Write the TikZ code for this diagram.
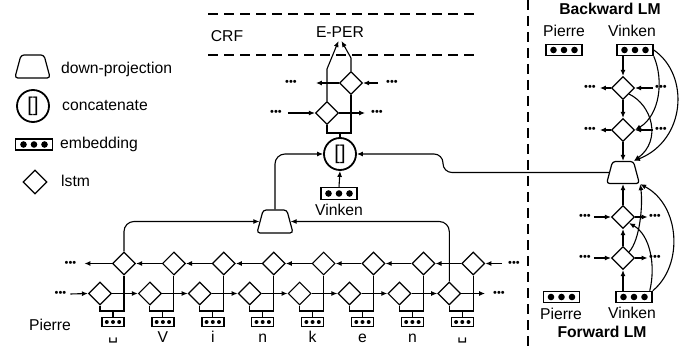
\documentclass[tikz,border=0pt]{standalone}
\usepackage{fontspec}
\setmainfont{Liberation Sans}
\newfontfamily\dvsans{DejaVu Sans}
\usetikzlibrary{shapes.geometric,arrows.meta}
\begin{document}
\begin{tikzpicture}[x=1pt,y=-1pt,
  every node/.style={font=\fontsize{15.7}{18}\selectfont},
  ln/.style={line width=1.1pt},
  arr/.style={line width=1.1pt,-{Latex[length=6pt,width=5pt]}},
  lstm/.style={shape=diamond, draw, line width=1.2pt, minimum width=23pt, minimum height=23pt, inner sep=0pt},
  proj/.style={shape=trapezium, draw, line width=1.2pt, trapezium left angle=75, trapezium right angle=75, inner xsep=11.85pt, inner ysep=11.5pt, rounded corners=3pt},
  concat/.style={circle, draw, line width=1.8pt, minimum size=32pt, inner sep=0pt, font=\fontsize{20}{20}\selectfont},
  embS/.style={draw, line width=1.4pt, minimum width=22pt, minimum height=9pt, inner sep=0pt, path picture={\foreach \k in {-1,0,1}{\fill ([xshift=\k*6.2pt]path picture bounding box.center) circle (2pt);}}},
  embL/.style={draw, line width=1.5pt, minimum width=36pt, minimum height=11pt, inner sep=0pt, path picture={\foreach \k in {-1,0,1}{\fill ([xshift=\k*10.5pt]path picture bounding box.center) circle (3.3pt);}}},
  dots/.style={font=\fontsize{11}{11}\selectfont, inner sep=0pt},
  sep/.style={dash pattern=on 10pt off 6pt, line width=1.1pt},
  txt/.style={anchor=base, inner sep=0pt},
  ltxt/.style={anchor=base west, inner sep=0pt},
  btxt/.style={anchor=base, inner sep=0pt, font=\fontsize{15.7}{18}\selectfont\bfseries}
]
\useasboundingbox (0,0) rectangle (694,350);

% ---------- legend ----------
\node[proj, inner xsep=11.5pt] (lg1) at (32.5,66.5) {};
\node[ltxt] (lt1) at (61,73.5) {down-projection};
\node[concat] (lg2) at (33,106) {[]};
\node[ltxt] (lt2) at (62,111) {concatenate};
\node[embL, minimum width=37pt] (lg3) at (34,144.5) {};
\node[ltxt] (lt3) at (60,149) {embedding};
\node[lstm, minimum width=24pt, minimum height=24pt] (lg4) at (35,182) {};
\node[ltxt] (lt4) at (61,187) {lstm};

% ---------- separators ----------
\draw[sep] (208,14) -- (480,14);
\draw[sep] (208,55) -- (480,55);
\draw[sep] (528,0) -- (528,350);
\node[txt] (crf) at (227,41.7) {CRF};

% ---------- character row ----------
\node[txt] (pierre) at (50,330) {Pierre};
\foreach \i/\ch in {0/{\raisebox{3pt}{\dvsans ␣}},1/V,2/i,3/n,4/k,5/e,6/n,7/{\raisebox{3pt}{\dvsans ␣}}} {
  \pgfmathsetmacro\cx{113+49.9*\i}
  \node[embS] (ce\i) at (\cx,322) {};
  \node[lstm] (cf\i) at (\cx-13,293.5) {};
  \node[lstm] (cb\i) at (\cx+11,263.5) {};
  \coordinate (cj\i) at (\cx,311);
  \draw[ln] (ce\i.north) -- (cj\i);
  \draw[ln] (cf\i.south) |- (cj\i) -| (cb\i.south);
  \node[txt] (cl\i) at (\cx,342) {\ch};
}
\foreach \i in {0,...,6} {
  \pgfmathtruncatemacro\j{\i+1}
  \draw[arr] (cf\i.east) -- (cf\j.west);
  \draw[arr] (cb\j.west) -- (cb\i.east);
}
\node[dots] (dfl) at (60.5,294) {•••};
\draw[arr] ([xshift=4pt]dfl.east) -- (cf0.west);
\node[dots] (dbl) at (70.5,263.5) {•••};
\draw[arr] (cb0.west) -- ([xshift=8pt]dbl.east);
\node[dots] (dbr) at (514,263.5) {•••};
\draw[arr] ([xshift=-6pt]dbr.west) -- (cb7.east);
\node[dots] (dfr) at (499,293.5) {•••};
\draw[arr] (cf7.east) -- ([xshift=-8pt]dfr.west);

% ---------- down-projection & concat ----------
\node[proj] (dp) at (275,221.5) {};
\draw[arr, rounded corners=10pt] (cb0.north) |- (dp.west);
\draw[arr, rounded corners=10pt] (cf7.north) |- (dp.east);
\node[concat] (cat) at (340,154) {[]};
\draw[arr, rounded corners=10pt] (dp.north) |- (cat.west);
\node[embL, minimum height=12pt] (ev) at (339,193.5) {};
\node[txt] (evl) at (339,215) {Vinken};
\draw[arr] (ev.north) -- (cat.south);

% ---------- word-level lstm ----------
\node[lstm] (tf) at (327,113) {};
\node[lstm] (tb) at (351,83) {};
\coordinate (tj) at (340,133);
\draw[ln] (cat.north) -- (tj);
\draw[ln] (tf.south) |- (tj) -| (tb.south);
\node[anchor=base] (eper) at (340,37.5) {E-PER};
\draw[arr] (tf.north) -- (327,69) -- ([xshift=-1.5pt]eper.south);
\draw[arr] (tb.north) -- (351,58) -- ([xshift=1.5pt]eper.south);
\node[dots] (tbl) at (291,83) {•••};
\draw[arr] (tb.west) -- ([xshift=19pt]tbl.east);
\node[dots] (tbr) at (392,83) {•••};
\draw[arr] ([xshift=-8pt]tbr.west) -- (tb.east);
\node[dots] (tfl) at (276,113) {•••};
\draw[arr] ([xshift=6pt]tfl.east) -- (tf.west);
\node[dots] (tfr) at (377,113) {•••};
\draw[arr] (tf.east) -- ([xshift=-6pt]tfr.west);

% ---------- language models ----------
\node[btxt] (bt) at (610,15) {Backward LM};
\node[txt] (bpl) at (564,37) {Pierre};
\node[txt] (bvl) at (632,37) {Vinken};
\node[embL] (bpe) at (564,50) {};
\node[embL] (bve) at (635,50) {};
\node[lstm] (bd1) at (623,88) {};
\node[lstm] (bd2) at (623,130) {};
\node[proj, inner xsep=10.5pt, inner ysep=11pt] (lp) at (623,172.5) {};
\draw[arr] (bve.south -| bd1.north) -- (bd1.north);
\draw[arr] (bd1.south) -- (bd2.north);
\draw[arr] (bd2.south) -- (lp.north);
\node[dots] (bd1l) at (590,88) {•••};
\node[dots] (bd1r) at (661,88) {•••};
\draw[arr] (bd1.west) -- ([xshift=4pt]bd1l.east);
\draw[arr] ([xshift=-2pt]bd1r.west) -- (bd1.east);
\node[dots] (bd2l) at (590,130) {•••};
\node[dots] (bd2r) at (661,130) {•••};
\draw[arr] (bd2.west) -- ([xshift=4pt]bd2l.east);
\draw[arr] ([xshift=-2pt]bd2r.west) -- (bd2.east);
\draw[arr] (bve.south east) .. controls (664,80) and (660,115) .. (bd2.east);
\draw[arr] (bve.east) .. controls (690,75) and (686,140) .. (lp.top right corner);
\draw[arr] (bd1.south east) .. controls (652,105) and (662,140) .. (lp.top right corner);

\node[lstm] (fd1) at (623,217) {};
\node[lstm] (fd2) at (623,258) {};
\node[embL] (fpe) at (561.5,297) {};
\node[embL] (fve) at (634,297) {};
\node[txt] (fpl) at (561,319) {Pierre};
\node[txt] (fvl) at (632,318) {Vinken};
\node[btxt] (ft) at (602,337) {Forward LM};
\draw[arr] (fve.north -| fd2.south) -- (fd2.south);
\draw[arr] (fd2.north) -- (fd1.south);
\draw[arr] (fd1.north) -- (lp.south);
\node[dots] (fd1l) at (585,217) {•••};
\node[dots] (fd1r) at (655,217) {•••};
\draw[arr] ([xshift=3pt]fd1l.east) -- (fd1.west);
\draw[arr] (fd1.east) -- ([xshift=-1.5pt]fd1r.west);
\node[dots] (fd2l) at (585,258) {•••};
\node[dots] (fd2r) at (655,258) {•••};
\draw[arr] ([xshift=3pt]fd2l.east) -- (fd2.west);
\draw[arr] (fd2.east) -- ([xshift=-1.5pt]fd2r.west);
\draw[arr] (fve.north east) .. controls (684,265) and (680,205) .. (lp.bottom right corner);
\draw[arr] ([xshift=-3pt]fve.north east) .. controls (656,265) and (650,235) .. (fd1.south east);
\draw[arr] (fd2.north east) .. controls (640,240) and (643,205) .. (lp.bottom right corner);

\draw[arr, rounded corners=9pt] (lp.west) -- (443,172.5) -- (443,154) -- (cat.east);
\end{tikzpicture}
\end{document}
